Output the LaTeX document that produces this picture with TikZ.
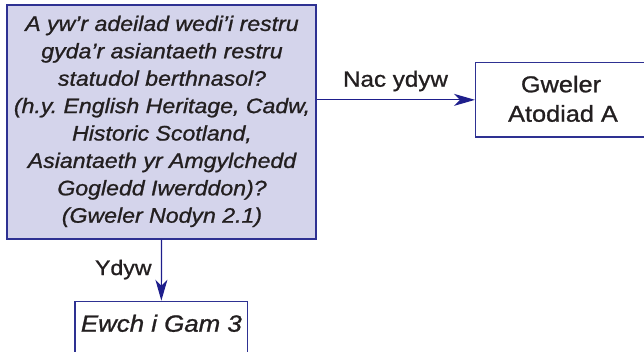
\documentclass[tikz,border=0pt]{standalone}
\usepackage{fontspec}
\setmainfont[FakeStretch=1.1,FakeBold=1]{Liberation Sans}
\usetikzlibrary{arrows.meta}
\definecolor{boxfill}{RGB}{212,212,235}
\definecolor{boxline}{RGB}{46,49,146}
\definecolor{arrline}{RGB}{30,30,140}
\definecolor{txt}{RGB}{35,31,32}
\frenchspacing
\tikzset{
  boxstyle/.style={draw=boxline, line width=1.4pt, inner sep=0pt, text=txt},
  arr/.style={draw=arrline, line width=1.2pt, -{Stealth[length=21pt,width=12pt,inset=6pt,fill=arrline]}},
  lbl/.style={text=txt, inner sep=0pt, anchor=base}
}
\begin{document}
\begin{tikzpicture}[x=1pt,y=1pt]
\useasboundingbox (0,0) rectangle (644,351);
% main question box
\node[boxstyle, fill=boxfill, minimum width=309pt, minimum height=234pt] (q) at (161.5,229) {};
\node[text=txt, inner sep=0pt, align=center, anchor=base,
      font=\fontsize{21}{27.4}\selectfont\itshape\frenchspacing] (qt) at (162,128.3)
  {A yw’r adeilad wedi’i restru\\ gyda’r asiantaeth restru\\ statudol berthnasol?\\
   (h.y. English Heritage, Cadw,\\ Historic Scotland,\\ Asiantaeth yr Amgylchedd\\
   Gogledd Iwerddon)?\\ (Gweler Nodyn 2.1)};
% right box
\node[boxstyle, fill=white, minimum width=175pt, minimum height=74.3pt] (r) at (563.2,251.15) {};
\node[lbl, font=\fontsize{23}{29}\selectfont] (r1) at (561,258.7) {Gweler};
\node[lbl, font=\fontsize{23}{29}\selectfont] (r2) at (563,229.3) {Atodiad A};
% bottom box
\node[boxstyle, fill=white, minimum width=172.7pt, minimum height=70pt,
      anchor=north] (e) at (161.35,50.3) {};
\node[lbl, font=\fontsize{23.5}{28}\selectfont\itshape] (et) at (161.35,19.3) {Ewch i Gam 3};
% connectors
\draw[arr] (q.east |- r.west) -- (r.west);
\draw[arr] (q.south) -- (e.north);
% labels
\node[lbl, font=\fontsize{22}{26}\selectfont] (l1) at (395.5,264.3) {Nac ydyw};
\node[lbl, font=\fontsize{21}{26}\selectfont] (l2) at (123.3,76) {Ydyw};
\end{tikzpicture}
\end{document}
